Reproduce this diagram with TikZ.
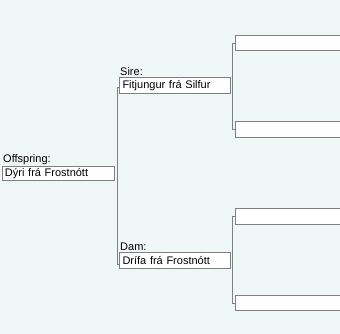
\documentclass[tikz,border=0pt]{standalone}
\usepackage{fontspec}
\setmainfont{Liberation Sans}
\usetikzlibrary{calc}
\definecolor{bgmint}{RGB}{240,248,247}
\definecolor{linegray}{RGB}{128,128,128}
\tikzset{
  horse/.style={draw=linegray, line width=1pt, fill=white, anchor=north west,
    minimum height=15pt, inner xsep=3pt, inner ysep=0pt, text width=#1, align=left,
    font=\fontsize{11}{11}\selectfont},
  lbl/.style={anchor=base west, inner sep=0pt, font=\fontsize{11}{11}\selectfont},
  conn/.style={draw=linegray, line width=1pt}
}
\begin{document}
\begin{tikzpicture}[x=1pt,y=-1pt]
\fill[bgmint] (0,0) rectangle (340,334);
\useasboundingbox (0,0) rectangle (340,334);
\clip (0,0) rectangle (340,334);
% offspring
\node[lbl] (loff) at (3,162.5) {Offspring:};
\node[horse=106pt, minimum height=14pt] (off) at (1.5,166) {Dýri frá Frostnótt};
% sire and dam
\node[lbl] (lsire) at (120,76) {Sire:};
\node[horse=104.5pt, minimum height=16pt] (sire) at (119,77.5) {Fitjungur frá Silfur};
\node[lbl] (ldam) at (120,250.5) {Dam:};
\node[horse=104.5pt, minimum height=16pt] (dam) at (119,252) {Drífa frá Frostnótt};
% grandparents
\node[horse=104pt, minimum height=15pt] (g1) at (235,35.3) {};
\node[horse=104pt, minimum height=16pt] (g2) at (235,121.3) {};
\node[horse=104pt, minimum height=16pt] (g3) at (235,208.3) {};
\node[horse=104pt, minimum height=15pt] (g4) at (235,295.3) {};
% connectors
\coordinate (s1) at ($(sire.north west)+(0,10.5)$);
\coordinate (d1) at ($(dam.north west)+(0,12)$);
\draw[conn] (s1) -- ++(-2,0) |- (d1);
\draw[conn] (g1.west) -- ++(-2.5,0) |- (g2.west);
\draw[conn] (g3.west) -- ++(-2.5,0) |- (g4.west);
\end{tikzpicture}
\end{document}
